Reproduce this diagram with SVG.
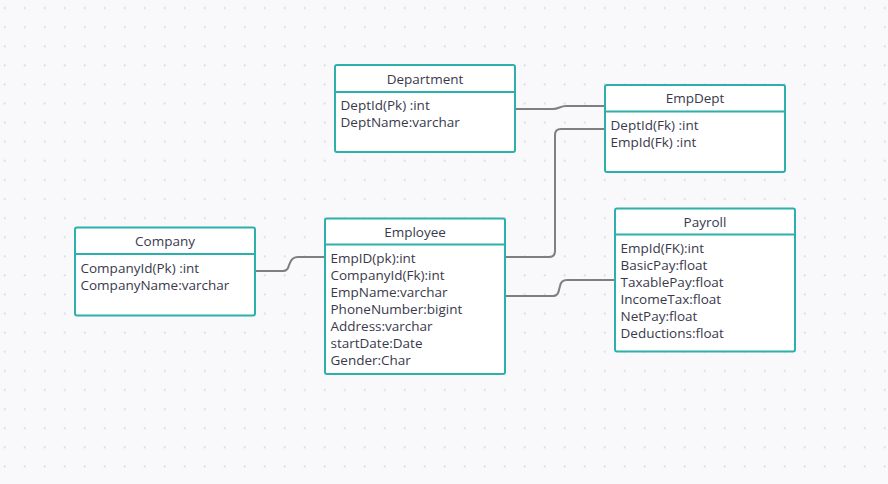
<svg xmlns="http://www.w3.org/2000/svg" width="888" height="484" viewBox="0 0 888 484">
<defs>
<pattern id="dots" patternUnits="userSpaceOnUse" x="0" y="0" width="20" height="19.1">
<circle cx="4.7" cy="8" r="1.1" fill="#dcdce2"/>
</pattern>
<style>
.box{fill:#ffffff;stroke:#2bb0ab;stroke-width:2}
.sep{stroke:#2bb0ab;stroke-width:2}
.t{font-family:"Open Sans","Noto Sans",sans-serif;font-size:13.5px;fill:#3a3a4c}
.h{text-anchor:middle}
.c{fill:none;stroke:#7f7f7f;stroke-width:2}
</style>
</defs>
<rect width="888" height="484" fill="#f9f9fb"/>
<rect width="888" height="484" fill="url(#dots)"/>
<g id="connectors">
<path class="c" d="M515,109 H553 C559,109 560,106 566,106 H605"/>
<path class="c" d="M505,257 H549 Q555,257 555,251 V135 Q555,129 561,129 H605"/>
<path class="c" d="M505,296 H553 Q558,296 559,290 L560,286 Q561,280 567,280 H615"/>
<path class="c" d="M255,271 H283 Q288,271 289,265 L290,263 Q292,257 298,257 H325"/>
</g>
<g id="department">
<rect class="box" x="335" y="65" width="180" height="87" rx="2"/>
<line class="sep" x1="335" y1="92" x2="515" y2="92"/>
<text class="t h" x="425" y="83.5">Department</text>
<text class="t" x="340.5" y="110">DeptId(Pk) :int</text>
<text class="t" x="340.5" y="127">DeptName:varchar</text>
</g>
<g id="empdept">
<rect class="box" x="605" y="85" width="180" height="87" rx="2"/>
<line class="sep" x1="605" y1="111.5" x2="785" y2="111.5"/>
<text class="t h" x="695" y="103">EmpDept</text>
<text class="t" x="610.5" y="129.5">DeptId(Fk) :int</text>
<text class="t" x="610.5" y="146.5">EmpId(Fk) :int</text>
</g>
<g id="company">
<rect class="box" x="75" y="227.5" width="180" height="88" rx="2"/>
<line class="sep" x1="75" y1="254" x2="255" y2="254"/>
<text class="t h" x="165" y="246">Company</text>
<text class="t" x="80.5" y="272.5">CompanyId(Pk) :int</text>
<text class="t" x="80.5" y="289.5">CompanyName:varchar</text>
</g>
<g id="employee">
<rect class="box" x="325" y="218.5" width="180" height="155.5" rx="2"/>
<line class="sep" x1="325" y1="244.5" x2="505" y2="244.5"/>
<text class="t h" x="415" y="236.5">Employee</text>
<text class="t" x="330.5" y="263">EmpID(pk):int</text>
<text class="t" x="330.5" y="280">CompanyId(Fk):int</text>
<text class="t" x="330.5" y="297">EmpName:varchar</text>
<text class="t" x="330.5" y="314">PhoneNumber:bigint</text>
<text class="t" x="330.5" y="331">Address:varchar</text>
<text class="t" x="330.5" y="348">startDate:Date</text>
<text class="t" x="330.5" y="365">Gender:Char</text>
</g>
<g id="payroll">
<rect class="box" x="615" y="208.5" width="180" height="143" rx="2"/>
<line class="sep" x1="615" y1="234.5" x2="795" y2="234.5"/>
<text class="t h" x="705" y="226.5">Payroll</text>
<text class="t" x="620.5" y="253">EmpId(FK):int</text>
<text class="t" x="620.5" y="270">BasicPay:float</text>
<text class="t" x="620.5" y="287">TaxablePay:float</text>
<text class="t" x="620.5" y="304">IncomeTax:float</text>
<text class="t" x="620.5" y="321">NetPay:float</text>
<text class="t" x="620.5" y="338">Deductions:float</text>
</g>
</svg>
